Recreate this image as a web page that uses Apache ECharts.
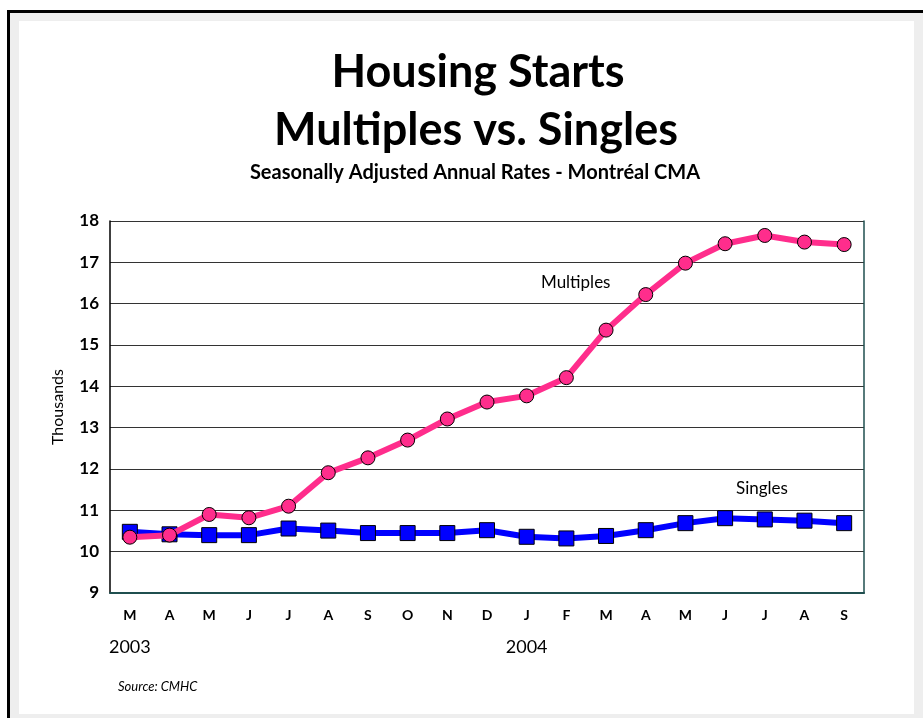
<!DOCTYPE html>
<html>
<head>
<meta charset="utf-8">
<script src="https://cdn.jsdelivr.net/npm/echarts@6/dist/echarts.min.js"></script>
<style>
html,body{margin:0;padding:0;background:#fff;}
#chart{width:923px;height:718px;}
</style>
</head>
<body>
<div id="chart"></div>
<script>
const months = ['M','A','M','J','J','A','S','O','N','D','J','F','M','A','M','J','J','A','S'];
const years = ['2003','','','','','','','','','','2004','','','','','','','',''];
const multiples = [10.35,10.40,10.90,10.82,11.10,11.91,12.27,12.70,13.21,13.62,13.77,14.21,15.36,16.22,16.98,17.45,17.65,17.49,17.43];
const singles = [10.48,10.42,10.40,10.40,10.56,10.51,10.45,10.45,10.45,10.52,10.36,10.32,10.38,10.52,10.69,10.81,10.78,10.75,10.69];
const yTicks = [9,10,11,12,13,14,15,16,17,18];

const FONT = 'Lato, "Open Sans", sans-serif';
const chart = echarts.init(document.getElementById('chart'), null, {renderer:'canvas'});
chart.setOption({
  animation:false,
  backgroundColor:'#ffffff',
  graphic:[
    {type:'rect', z:-10, shape:{x:7,y:10,width:916,height:708}, style:{fill:'#000'}},
    {type:'rect', z:-9, shape:{x:10,y:13,width:913,height:705}, style:{fill:'#eeeeee'}},
    {type:'rect', z:-8, shape:{x:19,y:21,width:895,height:693}, style:{fill:'#ffffff'}},
    {type:'text', x:478, y:50, style:{text:'Housing Starts', font:'bold 45px '+FONT, fill:'#000', align:'center'}, z:10},
    {type:'text', x:476, y:108, style:{text:'Multiples vs. Singles', font:'bold 45px '+FONT, fill:'#000', align:'center'}, z:10},
    {type:'text', x:475, y:163, style:{text:'Seasonally Adjusted Annual Rates - Montréal CMA', font:'bold 20px '+FONT, fill:'#000', align:'center'}, z:10},
    {type:'text', x:541, y:274, style:{text:'Multiples', font:'17px '+FONT, fill:'#000'}, z:10},
    {type:'text', x:736, y:480, style:{text:'Singles', font:'17px '+FONT, fill:'#000'}, z:10},
    {type:'text', x:118, y:680, style:{text:'Source: CMHC', font:'italic 13px '+FONT, fill:'#000'}, z:10}
  ],
  grid:{left:110, top:221, width:754, height:372, containLabel:false},
  xAxis:[
    {type:'category', data:months, boundaryGap:true,
     axisLine:{show:true, lineStyle:{color:'#1f4f4f', width:2}},
     axisTick:{show:false},
     axisLabel:{margin:15, color:'#000', fontWeight:'bold', fontSize:14, fontFamily:FONT}},
    {type:'category', data:years, position:'bottom', offset:37, boundaryGap:true,
     axisLine:{show:false}, axisTick:{show:false},
     axisLabel:{interval:0, margin:8, color:'#000', fontSize:18, fontFamily:FONT}}
  ],
  yAxis:[
    {type:'value', min:9, max:18, interval:1,
    name:'Thousands', nameLocation:'middle', nameGap:44, nameRotate:90,
    nameTextStyle:{color:'#000', fontSize:16, fontFamily:FONT},
    axisLine:{show:true, lineStyle:{color:'#000', width:1.5}},
    axisTick:{show:false},
    axisLabel:{margin:11, color:'#000', fontWeight:'bold', fontSize:17, fontFamily:FONT,
      formatter:function(v){return yTicks.indexOf(v)>=0 ? String(v) : '';}},
    splitLine:{show:true, lineStyle:{color:'#333', width:1}}},
    {type:'value', min:9, max:18, interval:1, position:'right',
     axisLine:{show:true, lineStyle:{color:'#1f4f4f', width:1.5}},
     axisTick:{show:false}, axisLabel:{show:false}, splitLine:{show:false}}
  ],
  series:[
    {name:'Singles', type:'line', data:singles, xAxisIndex:0,
     lineStyle:{color:'#0000ff', width:6}, itemStyle:{color:'#0000ff', borderColor:'#000', borderWidth:1},
     symbol:'rect', symbolSize:15, showAllSymbol:true, z:3},
    {name:'Multiples', type:'line', data:multiples, xAxisIndex:0,
     lineStyle:{color:'#ff2d8c', width:6}, itemStyle:{color:'#ff2d8c', borderColor:'#000', borderWidth:1},
     symbol:'circle', symbolSize:14, showAllSymbol:true, z:4},
    {type:'line', data:[], xAxisIndex:1, yAxisIndex:1}
  ]
});
</script>
</body>
</html>
